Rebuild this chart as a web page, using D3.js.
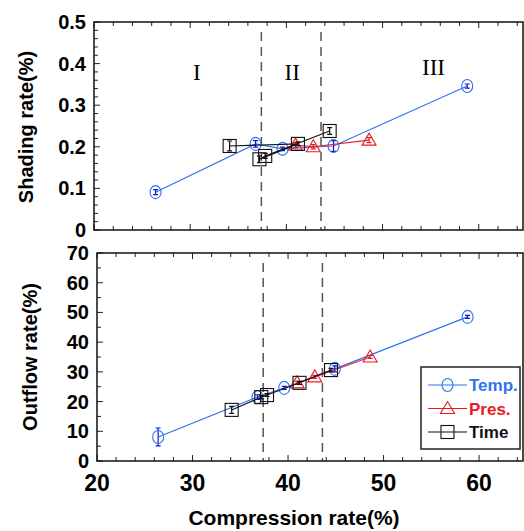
<!DOCTYPE html>
<html lang="en">
<head>
    <meta charset="UTF-8">
    <title>Shading and outflow vs compression</title>
    <script src="https://d3js.org/d3.v7.min.js"></script>
    <style>
        body { margin: 0; background: #fff; }
        svg text { font-family: "Liberation Sans", Arial, sans-serif; font-weight: bold; }
        .roman { font-family: "Liberation Serif", "Times New Roman", serif; font-weight: normal; }
    </style>
</head>
<body>
<div id="chart"></div>

<script type="text/javascript">
    // compression rate of each run (x, shared by both panels)
    var tempComp = [26.4, 36.8, 39.6, 44.9, 58.8];
    var presComp = [40.95, 42.8, 48.6];
    var timeComp = [34.1, 37.2, 37.8, 41.2, 44.5];

    // shading rate (%) - top panel
    var tempShade = [0.091, 0.207, 0.195, 0.202, 0.346];
    var tempShadeErr = [0.006, 0.008, 0.004, 0.013, 0.005];
    var presShade = [0.204, 0.200, 0.216];
    var presShadeErr = [0.006, 0.005, 0.006];
    var timeShade = [0.202, 0.170, 0.178, 0.207, 0.238];
    var timeShadeErr = [0.012, 0.008, 0.006, 0.005, 0.008];
    var timeShadeOrder = [0, 3, 1, 2, 4]; // order the time line is drawn in

    // outflow rate (%) - bottom panel
    var tempOut = [8.1, 21.5, 24.6, 31.0, 48.5];
    var tempOutErr = [3.0, 0.8, 0.5, 1.0, 0.5];
    var presOut = [26.3, 28.3, 35.0];
    var presOutErr = [0.5, 0.5, 0.5];
    var timeOut = [17.2, 21.5, 22.2, 26.3, 30.6];
    var timeOutErr = [1.2, 0.6, 0.5, 0.5, 0.6];

    var xTicks = [20, 30, 40, 50, 60];
    var shadeTicks = [0, 0.1, 0.2, 0.3, 0.4, 0.5];
    var outTicks = [0, 10, 20, 30, 40, 50, 60, 70];
    var zoneLines = [37.4, 43.6];
    var zoneNames = ['I', 'II', 'III'];
    var zoneLabelX = [30.7, 40.6, 55.3];
    var legendNames = ['Temp.', 'Pres.', 'Time'];

    var blue = '#2f72f2', red = '#e81b23', black = '#111';

    var width = 524, height = 531;
    var svg = d3.select('#chart').append('svg')
        .attr('width', width)
        .attr('height', height);

    var xTop = d3.scaleLinear().domain([20, 64.6]).range([94, 523]);
    var yTop = d3.scaleLinear().domain([0, 0.5]).range([230, 22]);
    var xBot = d3.scaleLinear().domain([20, 64.6]).range([97, 523]);
    var yBot = d3.scaleLinear().domain([0, 70]).range([461, 253]);

    function frame(x, y, yMinorStep, yFmt, showX) {
        var g = svg.append('g');
        var x0 = x.range()[0], x1 = x.range()[1], y0 = y.range()[0], y1 = y.range()[1];

        // dashed zone boundaries
        g.selectAll('line.zone').data(zoneLines).enter().append('line')
            .attr('x1', function (d) { return x(d); })
            .attr('x2', function (d) { return x(d); })
            .attr('y1', y1 + 10).attr('y2', y0)
            .attr('stroke', '#555').attr('stroke-width', 1.5)
            .attr('stroke-dasharray', '9,6');

        // inward ticks, minor every 2 on x
        var xt = d3.range(20, 65, 2);
        g.selectAll('line.xt').data(xt).enter().append('line')
            .attr('x1', function (d) { return x(d); })
            .attr('x2', function (d) { return x(d); })
            .attr('y1', y0)
            .attr('y2', function (d) { return y0 - (d % 10 === 0 ? 6 : 4); })
            .attr('stroke', '#222');
        g.selectAll('line.xt2').data(xt).enter().append('line')
            .attr('x1', function (d) { return x(d); })
            .attr('x2', function (d) { return x(d); })
            .attr('y1', y1)
            .attr('y2', function (d) { return y1 + (d % 10 === 0 ? 6 : 4); })
            .attr('stroke', '#222');

        var dom = y.domain();
        var yt = d3.range(dom[0], dom[1] + yMinorStep / 2, yMinorStep);
        var major = y.ticks(dom[1] === 70 ? 7 : 5);
        g.selectAll('line.yt').data(yt).enter().append('line')
            .attr('x1', x0)
            .attr('x2', function (d) {
                var isMajor = major.some(function (m) { return Math.abs(m - d) < 1e-9; });
                return x0 + (isMajor ? 6 : 4);
            })
            .attr('y1', function (d) { return y(d); })
            .attr('y2', function (d) { return y(d); })
            .attr('stroke', '#222');

        g.append('rect')
            .attr('x', x0).attr('y', y1)
            .attr('width', x1 - x0).attr('height', y0 - y1)
            .attr('fill', 'none').attr('stroke', '#111').attr('stroke-width', 1.5);

        // y tick labels
        g.selectAll('text.yl').data(major).enter().append('text')
            .attr('x', x0 - 8)
            .attr('y', function (d) { return y(d) + 7; })
            .attr('text-anchor', 'end')
            .attr('font-size', 20)
            .text(yFmt);

        if (showX) {
            g.selectAll('text.xl').data(xTicks).enter().append('text')
                .attr('x', function (d) { return x(d); })
                .attr('y', 491)
                .attr('text-anchor', 'middle')
                .attr('font-size', 23)
                .text(function (d) { return d; });
        }
        return g;
    }

    function series(g, x, y, xs, ys, errs, color, errColor, shape, order) {
        var idx = order || d3.range(xs.length);
        var line = d3.line()
            .x(function (i) { return x(xs[i]); })
            .y(function (i) { return y(ys[i]); });
        g.append('path').datum(idx)
            .attr('d', line)
            .attr('fill', 'none')
            .attr('stroke', color)
            .attr('stroke-width', 1.1);

        var pts = d3.range(xs.length);
        // error bars
        pts.forEach(function (i) {
            var cx = x(xs[i]), top = y(ys[i] + errs[i]), bot = y(ys[i] - errs[i]);
            g.append('path')
                .attr('d', 'M' + cx + ',' + top + 'V' + bot +
                    'M' + (cx - 2.5) + ',' + top + 'H' + (cx + 2.5) +
                    'M' + (cx - 2.5) + ',' + bot + 'H' + (cx + 2.5))
                .attr('fill', 'none')
                .attr('stroke', errColor)
                .attr('stroke-width', 1.2);
        });
        pts.forEach(function (i) {
            marker(g, shape, x(xs[i]), y(ys[i]), color);
        });
    }

    function marker(g, shape, cx, cy, color) {
        if (shape === 'circle') {
            g.append('ellipse')
                .attr('cx', cx).attr('cy', cy)
                .attr('rx', 5.5).attr('ry', 6.5)
                .attr('fill', 'none').attr('stroke', color).attr('stroke-width', 1.1);
        } else if (shape === 'triangle') {
            g.append('path')
                .attr('d', 'M' + cx + ',' + (cy - 7) + 'L' + (cx + 7) + ',' + (cy + 5) +
                    'L' + (cx - 7) + ',' + (cy + 5) + 'Z')
                .attr('fill', 'none').attr('stroke', color).attr('stroke-width', 1.1);
        } else {
            g.append('rect')
                .attr('x', cx - 6.5).attr('y', cy - 6.5)
                .attr('width', 13).attr('height', 13)
                .attr('fill', 'none').attr('stroke', color).attr('stroke-width', 1.1);
        }
    }

    // top panel
    var gTop = frame(xTop, yTop, 0.02, function (d) { return d === 0 ? '0' : d3.format('.1f')(d); }, false);
    gTop.selectAll('text.roman').data(zoneNames).enter().append('text')
        .attr('class', 'roman')
        .attr('x', function (d, i) { return xTop(zoneLabelX[i]); })
        .attr('y', function (d, i) { return i === 2 ? 75 : 80; })
        .attr('text-anchor', 'middle')
        .attr('font-size', 23)
        .text(function (d) { return d; });
    series(gTop, xTop, yTop, tempComp, tempShade, tempShadeErr, blue, '#1515d0', 'circle');
    series(gTop, xTop, yTop, presComp, presShade, presShadeErr, red, red, 'triangle');
    series(gTop, xTop, yTop, timeComp, timeShade, timeShadeErr, black, black, 'square', timeShadeOrder);

    // bottom panel
    var gBot = frame(xBot, yBot, 5, function (d) { return d; }, true);
    series(gBot, xBot, yBot, tempComp, tempOut, tempOutErr, blue, '#1515d0', 'circle');
    series(gBot, xBot, yBot, presComp, presOut, presOutErr, red, red, 'triangle');
    series(gBot, xBot, yBot, timeComp, timeOut, timeOutErr, black, black, 'square');

    // axis titles
    svg.append('text')
        .attr('transform', 'translate(33,127) rotate(-90)')
        .attr('text-anchor', 'middle')
        .attr('font-size', 20)
        .text('Shading rate(%)');
    svg.append('text')
        .attr('transform', 'translate(37,357) rotate(-90)')
        .attr('text-anchor', 'middle')
        .attr('font-size', 20)
        .text('Outflow rate(%)');
    svg.append('text')
        .attr('x', 294).attr('y', 525)
        .attr('text-anchor', 'middle')
        .attr('font-size', 21)
        .text('Compression rate(%)');

    // legend
    var legend = svg.append('g');
    legend.append('rect')
        .attr('x', 421).attr('y', 367)
        .attr('width', 99).attr('height', 82)
        .attr('fill', '#fff').attr('stroke', '#222').attr('stroke-width', 1.5);
    var legendColors = [blue, red, black];
    var legendShapes = ['circle', 'triangle', 'square'];
    legendNames.forEach(function (name, i) {
        var ly = 385 + i * 23.5;
        legend.append('line')
            .attr('x1', 428).attr('x2', 467)
            .attr('y1', ly).attr('y2', ly)
            .attr('stroke', legendColors[i]).attr('stroke-width', 1.1);
        marker(legend, legendShapes[i], 447.5, ly, legendColors[i]);
        legend.append('text')
            .attr('x', 469).attr('y', ly + 6)
            .attr('font-size', 17)
            .attr('fill', legendColors[i])
            .text(name);
    });
</script>
</body>
</html>
